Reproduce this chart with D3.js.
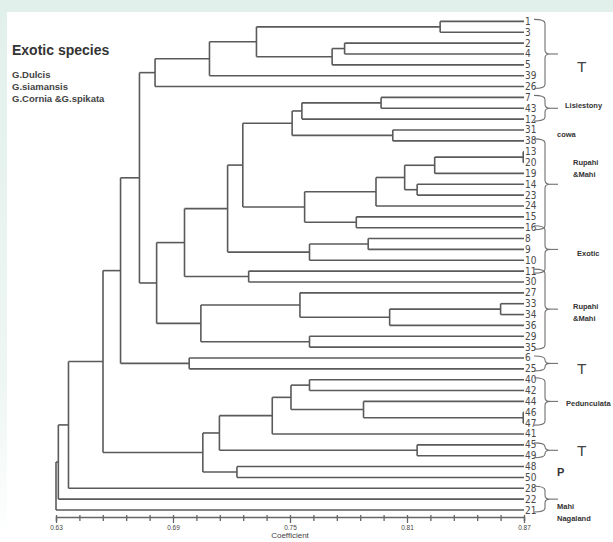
<!DOCTYPE html>
<html><head><meta charset="utf-8">
<script src="https://cdn.jsdelivr.net/npm/d3@7"></script>
<style>
html,body{margin:0;padding:0;background:#fff;}
svg{display:block;}
</style></head>
<body>
<svg id="chart" width="613" height="542"></svg>
<script>
// ---- data ----
const leafNames = ["1","3","2","4","5","39","26","7","43","12","31","38","13","20","19","14","23","24","15","16","8","9","10","11","30","27","33","34","36","29","35","6","25","40","42","44","46","47","41","45","49","48","50","28","22","21"];
// [cluster id, child a, child b, coefficient at which they join]
const merges = [
 ["c1","1","3",0.827],
 ["c2","2","4",0.778],
 ["c3","c2","5",0.7716],
 ["c4","c1","c3",0.7328],
 ["c5","c4","39",0.7087],
 ["c6","c5","26",0.6808],
 ["c7","7","43",0.7967],
 ["c8","c7","12",0.7561],
 ["c9","31","38",0.8027],
 ["c10","c8","c9",0.7511],
 ["c11","13","20",0.8696],
 ["c12","c11","19",0.8242],
 ["c13","14","23",0.8152],
 ["c14","c12","c13",0.8088],
 ["c15","c14","24",0.7941],
 ["c16","15","16",0.7840],
 ["c17","c15","c16",0.7575],
 ["c18","c10","c17",0.7258],
 ["c19","8","9",0.7901],
 ["c20","c19","10",0.7600],
 ["c21","c18","c20",0.7180],
 ["c22","11","30",0.7288],
 ["c23","c21","c22",0.6959],
 ["c24","33","34",0.8580],
 ["c25","c24","36",0.8011],
 ["c26","27","c25",0.7551],
 ["c27","29","35",0.7600],
 ["c28","c26","c27",0.7043],
 ["c29","c23","c28",0.6816],
 ["c30","c6","c29",0.6728],
 ["c31","6","25",0.6983],
 ["c32","c30","c31",0.6631],
 ["c33","40","42",0.7600],
 ["c34","46","47",0.8696],
 ["c35","44","c34",0.7877],
 ["c36","c33","c35",0.7505],
 ["c37","c36","41",0.7409],
 ["c38","45","49",0.8152],
 ["c39","c37","c38",0.7138],
 ["c40","48","50",0.7228],
 ["c41","c39","c40",0.7053],
 ["c42","c32","c41",0.6541],
 ["c43","c42","28",0.6364],
 ["c44","c43","22",0.6312],
 ["c45","c44","21",0.6300]
];
const axisDomain = [0.63, 0.87];
const tickLabels = ["0.63","0.69","0.75","0.81","0.87"];
const groupNames = ["T","Lisiestony","Rupahi\n&Mahi","Exotic","Rupahi\n&Mahi","T","Pedunculata","T","Mahi\nNagaland"];
const groupFrom  = ["1","7","38","16","11","6","40","45","28"];
const groupTo    = ["26","12","16","11","35","25","47","49","21"];
const looseLabels = ["cowa","P"];
const looseAt = ["31","48"];
const legendTitle = "Exotic species";
const legendItems = ["G.Dulcis","G.siamansis","G.Cornia &G.spikata"];
const axisTitle = "Coefficient";

// ---- layout ----
const svg = d3.select("#chart");
const mint = "#e2f0ec";
const defs = svg.append("defs");
const grad = defs.append("linearGradient").attr("id","lg").attr("x1",0).attr("x2",0).attr("y1",0).attr("y2",1);
grad.append("stop").attr("offset","0%").attr("stop-color",mint);
grad.append("stop").attr("offset","70%").attr("stop-color","#eef6f3");
grad.append("stop").attr("offset","100%").attr("stop-color","#ffffff");
svg.append("rect").attr("x",0).attr("y",0).attr("width",613).attr("height",542).attr("fill","#fff");
svg.append("rect").attr("x",0).attr("y",12).attr("width",7).attr("height",530).attr("fill","url(#lg)");
svg.append("rect").attr("x",0).attr("y",0).attr("width",613).attr("height",12).attr("fill",mint);

const x = d3.scaleLinear().domain(axisDomain).range([56,524]);
const y = d3.scalePoint().domain(leafNames).range([21.4,510]);

// build tree
const nodes = {};
leafNames.forEach(n => nodes[n] = {name:n, h: axisDomain[1]});
merges.forEach(([id,a,b,h]) => nodes[id] = {name:id, h:h, children:[nodes[a],nodes[b]]});
const root = d3.hierarchy(nodes[merges[merges.length-1][0]]);
root.eachAfter(d => {
  d.py = d.children ? d3.mean(d.children, c => c.py) : y(d.data.name);
  d.px = x(d.data.h);
});

const lineColor = "#5a5a5a";
const g = svg.append("g").attr("fill","none").attr("stroke",lineColor).attr("stroke-width",1.6);
// horizontal links
root.descendants().filter(d => d.parent).forEach(d => {
  g.append("line").attr("x1",d.parent.px).attr("x2",d.px).attr("y1",d.py).attr("y2",d.py);
});
// verticals
root.descendants().filter(d => d.children).forEach(d => {
  g.append("line").attr("x1",d.px).attr("x2",d.px)
   .attr("y1",d.children[0].py).attr("y2",d.children[1].py);
});

// leaf labels
svg.append("g").selectAll("text").data(leafNames).join("text")
  .attr("x",525).attr("y",d => y(d)).attr("dy","0.35em")
  .attr("font-family","'Liberation Sans Narrow','DejaVu Sans Condensed','Liberation Sans',sans-serif")
  .attr("font-size",10).attr("fill","#4a4a4a").text(d => d);

// braces
const bx0 = 534, bx1 = 545, bx2 = 558;
const bg = svg.append("g").attr("fill","none").attr("stroke","#707070").attr("stroke-width",1.1);
const labelDy = [13, -3, -16, 4, 3, 5, 2, 0, 13];
const labelX = [577, 565, 573, 577, 573, 577, 566, 577, 557];
groupNames.forEach((name,i) => {
  const y0 = y(groupFrom[i]) - 2, y1 = y(groupTo[i]) + 2, ym = (y0+y1)/2;
  const r = Math.min(4,(y1-y0)/4);
  const p = d3.path();
  p.moveTo(bx0,y0); p.quadraticCurveTo(bx1,y0,bx1,y0+r);
  p.lineTo(bx1,ym-r); p.quadraticCurveTo(bx1,ym,bx1+5,ym);
  p.quadraticCurveTo(bx1,ym,bx1,ym+r);
  p.lineTo(bx1,y1-r); p.quadraticCurveTo(bx1,y1,bx0,y1);
  bg.append("path").attr("d",p.toString());
  bg.append("line").attr("x1",bx1+5).attr("x2",bx2).attr("y1",ym).attr("y2",ym);
  const lines = name.split("\n");
  const big = name === "T";
  const t = svg.append("text").attr("x",labelX[i]).attr("fill",big?"#444":"#333")
    .attr("font-family","'Liberation Sans','DejaVu Sans',sans-serif")
    .attr("font-size",big?15.5:7.5).attr("font-weight",big?"normal":"bold");
  const lh = 12;
  const top = ym + labelDy[i] - (lines.length-1)*lh/2;
  lines.forEach((ln,k) => t.append("tspan").attr("x",labelX[i]).attr("y",top+k*lh).attr("dy","0.35em").text(ln));
});
// loose labels
const looseX = [557, 557];
const looseDy = [4, 6];
looseLabels.forEach((s,i) => {
  const isP = s === "P";
  svg.append("text").attr("x",looseX[i]).attr("y",y(looseAt[i]) + looseDy[i]).attr("dy","0.35em")
    .attr("font-family","'Liberation Sans','DejaVu Sans',sans-serif")
    .attr("font-size",isP?11:7.5).attr("font-weight","bold").attr("fill","#333").text(s);
});

// axis
const ticks = d3.range(21).map(i => +(axisDomain[0] + i*0.012).toFixed(3));
const axis = d3.axisBottom(x).tickValues(ticks).tickSizeOuter(0).tickSize(4)
  .tickFormat(d => { const s = d.toFixed(2); return tickLabels.includes(s) && Math.abs(d*100 - Math.round(d*100))<1e-6 ? s : ""; });
const ag = svg.append("g").attr("transform","translate(0,517)").call(axis);
ag.select(".domain").attr("stroke","#666").attr("stroke-width",1.5);
ag.selectAll(".tick line").attr("stroke","#666").attr("stroke-width",1.3)
  .attr("y1",-2).attr("y2",(d,i) => i%5===0 ? 6 : 4);
ag.selectAll(".tick text").attr("y",8).attr("font-size",6.5).attr("fill","#444")
  .attr("font-family","'Liberation Sans','DejaVu Sans',sans-serif");
svg.append("text").attr("x",x(0.75)).attr("y",538).attr("text-anchor","middle")
  .attr("font-family","'Liberation Sans','DejaVu Sans',sans-serif").attr("font-size",8).attr("fill","#444").text(axisTitle);

// legend text
svg.append("text").attr("x",12).attr("y",50).attr("dy","0.35em")
  .attr("font-family","'Liberation Sans','DejaVu Sans',sans-serif").attr("font-size",14).attr("font-weight","bold")
  .attr("fill","#333").text(legendTitle);
svg.append("g").selectAll("text").data(legendItems).join("text")
  .attr("x",12).attr("y",(d,i) => 75 + i*12).attr("dy","0.35em")
  .attr("font-family","'Liberation Sans','DejaVu Sans',sans-serif").attr("font-size",9.5).attr("font-weight","bold")
  .attr("fill","#444").text(d => d);
</script>
</body></html>
